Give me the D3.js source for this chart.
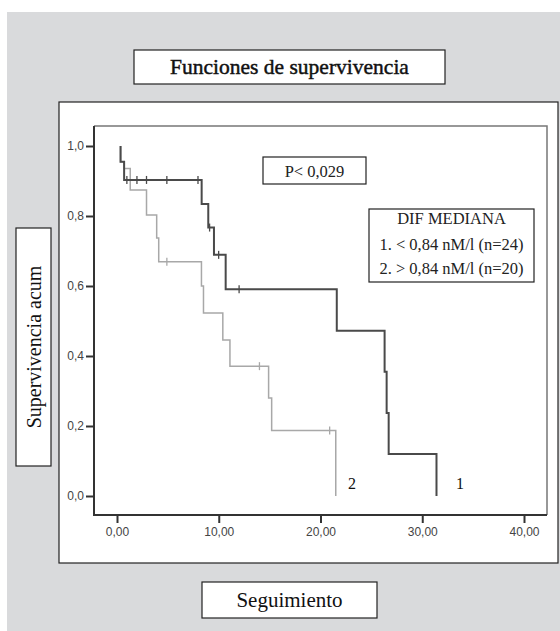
<!DOCTYPE html>
<html><head><meta charset="utf-8">
<script src="https://cdn.jsdelivr.net/npm/d3@7"></script>
<style>html,body{margin:0;padding:0;background:#fff;}svg{display:block;}</style>
</head><body>
<script>
// ---- data ----
const xTicks = [0, 10, 20, 30, 40];
const yTicks = [0, 0.2, 0.4, 0.6, 0.8, 1.0];
const startTime = 0.35;
// group 1: < 0,84 nM/l (n=24)
const g1Times = [0.35, 0.7, 8.32, 8.97, 9.53, 10.68, 21.6, 26.3, 26.5, 26.7, 31.4];
const g1Surv  = [0.955, 0.903, 0.834, 0.767, 0.689, 0.591, 0.472, 0.355, 0.237, 0.12, 0.0];
const g1Cens  = [0.97, 1.96, 2.9, 4.9, 7.96, 9.1, 9.99, 12.0];
// group 2: > 0,84 nM/l (n=20)
const g2Times = [0.35, 0.7, 1.3, 2.9, 3.9, 4.1, 8.3, 8.5, 10.4, 11.1, 14.9, 15.2, 21.5];
const g2Surv  = [0.955, 0.936, 0.874, 0.803, 0.737, 0.669, 0.6, 0.523, 0.446, 0.371, 0.28, 0.187, 0.0];
const g2Cens  = [4.9, 14.0, 20.9];
const legendLines = ["DIF MEDIANA", "1. < 0,84 nM/l (n=24)", "2. > 0,84 nM/l (n=20)"];

const W = 560, H = 631;
const svg = d3.select("body").append("svg").attr("width", W).attr("height", H);
const serif = "'Liberation Serif', 'Times New Roman', serif";
const sans = "'Liberation Sans', Arial, sans-serif";

// background
svg.append("rect").attr("x", 7).attr("y", 12).attr("width", W - 7).attr("height", H - 12).attr("fill", "#d9dadc");

function textBox(x, y, w, h, txt, size, strokeW) {
  svg.append("rect").attr("x", x).attr("y", y).attr("width", w).attr("height", h)
    .attr("fill", "#fff").attr("stroke", "#222").attr("stroke-width", 1.2);
  const t = svg.append("text").attr("x", x + w / 2).attr("y", y + h / 2).attr("text-anchor", "middle")
    .attr("dominant-baseline", "central").attr("font-family", serif).attr("font-size", size)
    .attr("fill", "#111").text(txt);
  if (strokeW) t.attr("stroke", "#111").attr("stroke-width", strokeW);
}
textBox(134, 50, 311, 34, "Funciones de supervivencia", 21.5, 0.45);

// panel
svg.append("rect").attr("x", 59).attr("y", 102).attr("width", 499).attr("height", 461)
  .attr("fill", "#fff").attr("stroke", "#222").attr("stroke-width", 1.2);

textBox(202, 582, 175, 36, "Seguimiento", 21);

// y label box
svg.append("rect").attr("x", 16).attr("y", 228).attr("width", 35).attr("height", 238)
  .attr("fill", "#fff").attr("stroke", "#222").attr("stroke-width", 1.2);
svg.append("text").attr("transform", "translate(34,347) rotate(-90)").attr("text-anchor", "middle")
  .attr("dominant-baseline", "central").attr("font-family", serif).attr("font-size", 20)
  .attr("fill", "#111").text("Supervivencia acum");

// scales
const x = d3.scaleLinear().domain([0, 40]).range([117, 524]);
const y = d3.scaleLinear().domain([0, 1]).range([496, 146]);
const frameL = 94, frameR = 547, frameT = 126, frameB = 515;

// frame
svg.append("path").attr("d", `M${frameL},${frameT}H${frameR}V${frameB}`)
  .attr("fill", "none").attr("stroke", "#777").attr("stroke-width", 1.5);
svg.append("path").attr("d", `M${frameL},${frameT}V${frameB}H${frameR}`)
  .attr("fill", "none").attr("stroke", "#333").attr("stroke-width", 2);

// axes
const fmtX = d => d3.format(".2f")(d).replace(".", ",");
const fmtY = d => d3.format(".1f")(d).replace(".", ",");
const yAxis = svg.append("g").attr("transform", `translate(${frameL},0)`)
  .call(d3.axisLeft(y).tickValues(yTicks).tickFormat(fmtY).tickSize(8).tickPadding(2));
const xAxis = svg.append("g").attr("transform", `translate(0,${frameB})`)
  .call(d3.axisBottom(x).tickValues(xTicks).tickFormat(fmtX).tickSize(8).tickPadding(4));
[yAxis, xAxis].forEach(a => {
  a.select(".domain").remove();
  a.selectAll(".tick line").attr("stroke", "#333").attr("stroke-width", 2);
  a.selectAll(".tick text").attr("font-family", sans).attr("font-size", 12).attr("fill", "#444");
});

// step curves
function stepPath(times, surv) {
  const pts = [[startTime, 1]];
  let s = 1;
  times.forEach((t, i) => { pts.push([t, s]); pts.push([t, surv[i]]); s = surv[i]; });
  return d3.line().x(d => x(d[0])).y(d => y(d[1]))(pts);
}
function survAt(times, surv, t) {
  let s = 1;
  times.forEach((ti, i) => { if (ti <= t) s = surv[i]; });
  return s;
}
function drawCurve(times, surv, cens, color, width) {
  svg.append("path").attr("d", stepPath(times, surv)).attr("fill", "none")
    .attr("stroke", color).attr("stroke-width", width);
  svg.selectAll(null).data(cens).enter().append("line")
    .attr("x1", d => x(d)).attr("x2", d => x(d))
    .attr("y1", d => y(survAt(times, surv, d)) - 4)
    .attr("y2", d => y(survAt(times, surv, d)) + 4)
    .attr("stroke", color).attr("stroke-width", 1.3);
}
drawCurve(g2Times, g2Surv, g2Cens, "#a8a8a8", 1.5);
drawCurve(g1Times, g1Surv, g1Cens, "#4a4a4a", 2);

// curve labels
svg.append("text").attr("x", 348).attr("y", 483).attr("dominant-baseline", "central")
  .attr("font-family", serif).attr("font-size", 16).attr("fill", "#111").text("2");
svg.append("text").attr("x", 456).attr("y", 483).attr("dominant-baseline", "central")
  .attr("font-family", serif).attr("font-size", 16).attr("fill", "#111").text("1");

// P box
svg.append("rect").attr("x", 263).attr("y", 157).attr("width", 103).attr("height", 27)
  .attr("fill", "#fff").attr("stroke", "#222").attr("stroke-width", 1.2);
svg.append("text").attr("x", 314.5).attr("y", 171).attr("text-anchor", "middle")
  .attr("dominant-baseline", "central").attr("font-family", serif).attr("font-size", 16.5)
  .attr("fill", "#222").text("P< 0,029");

// legend box
svg.append("rect").attr("x", 369).attr("y", 209).attr("width", 165).attr("height", 73)
  .attr("fill", "#fff").attr("stroke", "#222").attr("stroke-width", 1.2);
const legY = [218, 244, 268];
svg.selectAll(null).data(legendLines).enter().append("text")
  .attr("x", 451.5).attr("y", (d, i) => legY[i]).attr("text-anchor", "middle")
  .attr("dominant-baseline", "central").attr("font-family", serif).attr("font-size", 16.5)
  .attr("fill", "#222").text(d => d);
</script>
</body></html>
